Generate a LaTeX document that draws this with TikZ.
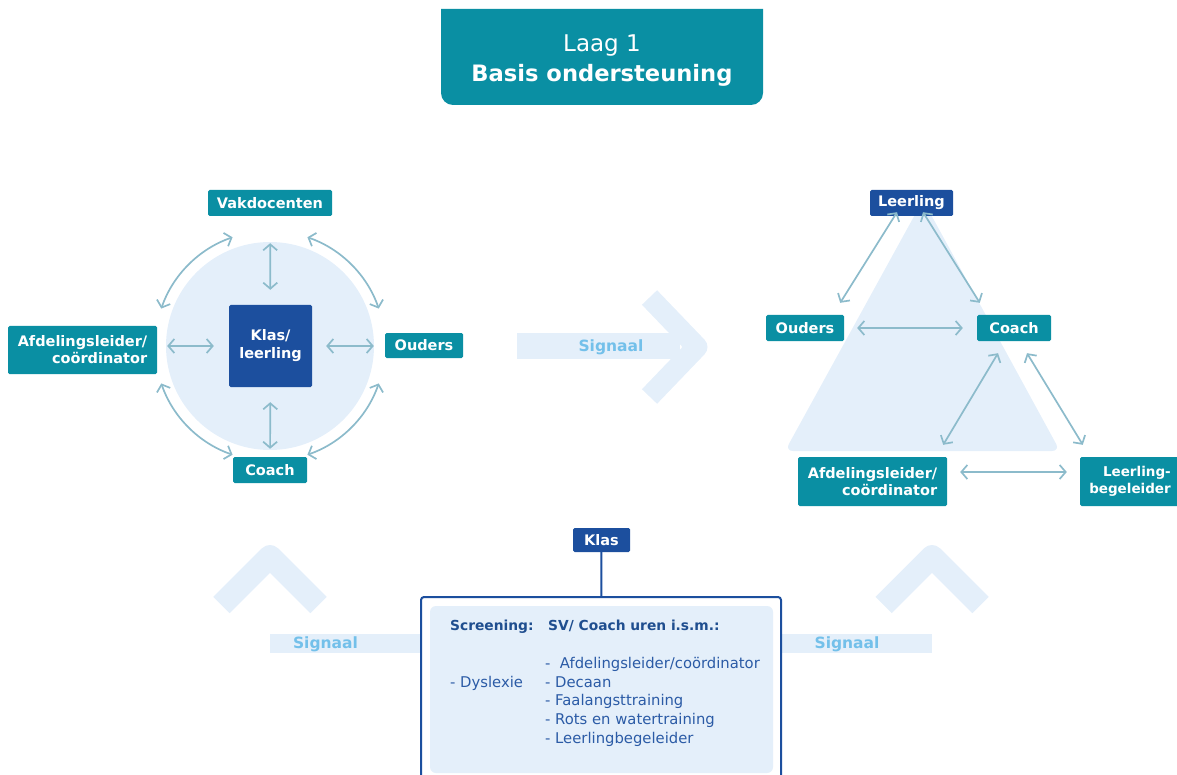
\documentclass[tikz,border=0pt]{standalone}
\usepackage{fontspec}
\setmainfont{DejaVu Sans}
\usetikzlibrary{arrows.meta,calc}
\definecolor{tealbox}{HTML}{0A8FA3}
\definecolor{darkbl}{HTML}{1C4F9E}
\definecolor{lightfill}{HTML}{E4EFFA}
\definecolor{arrowc}{HTML}{8CBBCB}
\definecolor{sigtext}{HTML}{73C0EA}
\definecolor{headtext}{HTML}{1F4E8F}
\definecolor{itemtext}{HTML}{2B5BA6}
\tikzset{
  lbl/.style={fill=tealbox, text=white, font=\bfseries\fontsize{14.5}{17}\selectfont,
    rounded corners=1.5pt, inner sep=0pt, align=center},
  lbldark/.style={lbl, fill=darkbl},
  arr/.style={draw=arrowc, line width=1.7pt,
    {Straight Barb[length=6pt,width=14pt]}-{Straight Barb[length=6pt,width=14pt]}},
  sig/.style={text=sigtext, font=\bfseries\fontsize{15.5}{18}\selectfont, inner sep=0pt},
  chev/.style={draw=lightfill, line join=round},
  boxhead/.style={text=headtext, font=\bfseries\fontsize{13.8}{16}\selectfont, inner sep=0pt},
  boxitem/.style={text=itemtext, font=\fontsize{14.8}{18}\selectfont, inner sep=0pt}
}
\begin{document}
\begin{tikzpicture}[x=1pt,y=-1pt]
\useasboundingbox (0,0) rectangle (1177,775);
% title
\fill[tealbox] (441,9) -- (763,9) [rounded corners=12pt] -- (763,105) -- (441,105) [sharp corners] -- cycle;
\node[text=white, font=\fontsize{23}{28}\selectfont, anchor=base, inner sep=0pt] (t1) at (602,52) {Laag 1};
\node[text=white, font=\bfseries\fontsize{22.6}{28}\selectfont, anchor=base, inner sep=0pt] (t2) at (602,82) {Basis ondersteuning};

% ---------- left diagram ----------
\node[circle, fill=lightfill, minimum size=208pt, inner sep=0pt] (circ) at (270,346) {};
\node[lbldark, minimum width=83pt, minimum height=82pt, font=\bfseries\fontsize{14.5}{18}\selectfont] (klasL) at (270.5,346) {Klas/\\leerling};
\node[lbl, minimum width=124pt, minimum height=26pt] (vak) at (270,203) {Vakdocenten};
\node[lbl, minimum width=149pt, minimum height=48pt, align=right] (afd) at (82.5,350) {Afdelingsleider/\\coördinator};
\node[lbl, minimum width=78pt, minimum height=25pt] (oudL) at (424,345.5) {Ouders};
\node[lbl, minimum width=74pt, minimum height=26pt] (coachL) at (270,470) {Coach};

\draw[arr, shorten <=27pt, shorten >=15pt] (vak) -- (klasL);
\draw[arr, shorten <=15pt, shorten >=8pt] (klasL) -- (coachL);
\draw[arr, shorten <=10pt, shorten >=15pt] (afd.east |- klasL.west) -- (klasL.west);
\draw[arr, shorten <=14pt, shorten >=11pt] (klasL.east) -- (oudL.west |- klasL.east);
\draw[arr] ($(circ.center)+(109:115pt)$) arc[start angle=109, end angle=161, radius=115pt];
\draw[arr] ($(circ.center)+(71:115pt)$) arc[start angle=71, end angle=19, radius=115pt];
\draw[arr] ($(circ.center)+(199:115pt)$) arc[start angle=199, end angle=251, radius=115pt];
\draw[arr] ($(circ.center)+(289:115pt)$) arc[start angle=289, end angle=341, radius=115pt];

% ---------- middle signal ----------
\fill[lightfill] (517,333) rectangle (680,359);
\draw[chev, line width=21pt] (649.5,297.5) -- (697,347) -- (649.5,396.5);
\node[sig] (sigM) at (611,347) {Signaal};

% ---------- right diagram ----------
\fill[lightfill, rounded corners=8pt] (923,200) -- (785,451) -- (1060,451) -- cycle;
\node[lbldark, minimum width=83pt, minimum height=26pt] (leer) at (911.5,203) {Leerling};
\node[lbl, minimum width=78pt, minimum height=26pt] (oudR) at (805,328) {Ouders};
\node[lbl, minimum width=74pt, minimum height=26pt] (coachR) at (1014,328) {Coach};
\node[lbl, minimum width=149pt, minimum height=49pt, align=right] (afdR) at (872.5,481.5) {Afdelingsleider/\\coördinator};
\node[lbl, minimum width=100pt, minimum height=49pt, align=right, font=\bfseries\fontsize{13.5}{17}\selectfont] (lb) at (1130,481.5) {Leerling-\\begeleider};

\draw[arr] ($(leer.south)+(-14.5,-4)$) -- ($(oudR.north east)+(-4,-12)$);
\draw[arr] ($(leer.south)+(11.5,-4)$) -- ($(coachR.north west)+(3,-12)$);
\draw[arr, shorten <=13pt, shorten >=14pt] (oudR) -- (coachR);
\draw[arr] ($(coachR.south)+(-16,12)$) -- ($(afdR.north east)+(-4,-12)$);
\draw[arr] ($(coachR.south)+(13,12)$) -- ($(lb.north west)+(3,-12)$);
\draw[arr] ($(afdR.east)+(13,-9.5)$) -- ($(lb.west)+(-13,-9.5)$);

% ---------- bottom ----------
\draw[chev, line width=23pt] (221.5,605) -- (270,556.5) -- (318.5,605);
\draw[chev, line width=23pt] (883.5,605) -- (932,556.5) -- (980.5,605);
\fill[lightfill] (270,634) rectangle (425,653);
\fill[lightfill] (777,634) rectangle (932,653);
\node[sig] (sigL) at (325.5,644) {Signaal};
\node[sig] (sigR) at (847,644) {Signaal};

\node[draw=darkbl, line width=2pt, fill=white, rounded corners=3pt, minimum width=360pt, minimum height=183pt, inner sep=0pt] (bx) at (601,688.5) {};
\node[fill=lightfill, rounded corners=6pt, minimum width=343pt, minimum height=167pt, inner sep=0pt] (inner) at (601.5,689.5) {};
\node[lbldark, minimum width=57pt, minimum height=24pt] (klas) at (601.5,540) {Klas};
\draw[darkbl, line width=2pt] (klas) -- (bx);

\node[boxhead, anchor=base west] (scr) at (450,630) {Screening:};
\node[boxhead, anchor=base west] (sv) at (548,630) {SV/ Coach uren i.s.m.:};
\node[boxitem, anchor=base west] (dys) at (450,687) {- Dyslexie};
\node[boxitem, anchor=base west] (i1) at (545,668) {-~~Afdelingsleider/coördinator};
\node[boxitem, anchor=base west] (i2) at (545,687) {- Decaan};
\node[boxitem, anchor=base west] (i3) at (545,705) {- Faalangsttraining};
\node[boxitem, anchor=base west] (i4) at (545,724) {- Rots en watertraining};
\node[boxitem, anchor=base west] (i5) at (545,743) {- Leerlingbegeleider};
\end{tikzpicture}
\end{document}
